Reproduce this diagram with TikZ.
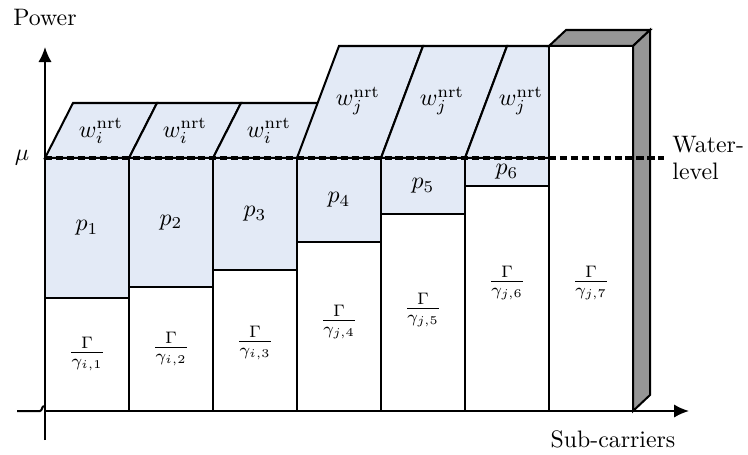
\documentclass[tikz,border=0pt]{standalone}
\usetikzlibrary{arrows.meta}
\definecolor{wblue}{RGB}{227,234,246}
\definecolor{sidegray}{RGB}{150,150,150}
\begin{document}
\begin{tikzpicture}[x=0.42pt,y=-0.42pt,
  box/.style={draw=black,line width=0.85pt,line join=miter},
  water/.style={box,fill=wblue},
  axis/.style={line width=0.85pt,-{Latex[length=6.3pt,width=5.6pt]}},
  lbl/.style={inner sep=0pt}]
\useasboundingbox (0,0) rectangle (748,454);
% i parallelograms
\foreach \k in {1,2,3}{
  \pgfmathsetmacro{\L}{45+84*(\k-1)}
  \draw[water] (\L,158) -- (\L+28,103) -- (\L+112,103) -- (\L+84,158) -- cycle;
  \node[lbl] (wi\k) at (\L+56,131) {$w_i^{\mathrm{nrt}}$};
}
% j parallelograms
\foreach \k in {4,5,6}{
  \pgfmathsetmacro{\L}{45+84*(\k-1)}
  \draw[water] (\L,158) -- (\L+42,46) -- (\L+126,46) -- (\L+84,158) -- cycle;
}
\node[lbl] (wj4) at (358,101) {$w_j^{\mathrm{nrt}}$};
\node[lbl] (wj5) at (442,101) {$w_j^{\mathrm{nrt}}$};
\node[lbl] (wj6) at (521,101) {$w_j^{\mathrm{nrt}}$};
% power columns
\foreach \k/\b/\gy/\pl/\gl in {1/298/354/p_1/\gamma_{i,1},2/287/349/p_2/\gamma_{i,2},3/270/343/p_3/\gamma_{i,3},4/242/322/p_4/\gamma_{j,4},5/214/310/p_5/\gamma_{j,5},6/186/283/p_6/\gamma_{j,6}}{
  \pgfmathsetmacro{\L}{45+84*(\k-1)}
  \draw[water] (\L,158) rectangle (\L+84,\b);
  \draw[box,fill=white] (\L,\b) rectangle (\L+84,411);
  \node[lbl] (p\k) at (\L+42,{(158+\b)/2}) {$\pl$};
  \node[lbl] (g\k) at (\L+42,\gy) {$\frac{\Gamma}{\gl}$};
}
% column 7 (3D bar)
\draw[box,fill=sidegray] (549,46) -- (566,30) -- (650,30) -- (633,46) -- cycle;
\draw[box,fill=sidegray] (633,46) -- (650,30) -- (650,395) -- (633,411) -- cycle;
\draw[box,fill=white] (549,46) rectangle (633,411);
\node[lbl] (g7) at (591,283) {$\frac{\Gamma}{\gamma_{j,7}}$};
% axes
\draw[axis] (45,440) -- (45,47);
\draw[line width=0.85pt] (17,411) -- (40,411) .. controls (42,411) and (42,406) .. (44,406);
\draw[axis] (45,411) -- (689,411);
% water level
\draw[line width=1.4pt,dash pattern=on 3pt off 1.6pt] (45,158) -- (664,158);
% labels
\node[lbl] (power) at (45,17) {Power};
\node[lbl] (mu) at (22,158) {$\mu$};
\node[lbl,align=left,anchor=west] (wl) at (672,158) {Water-\\[-1pt]level};
\node[lbl] (sc) at (613,439) {Sub-carriers};
\end{tikzpicture}
\end{document}
